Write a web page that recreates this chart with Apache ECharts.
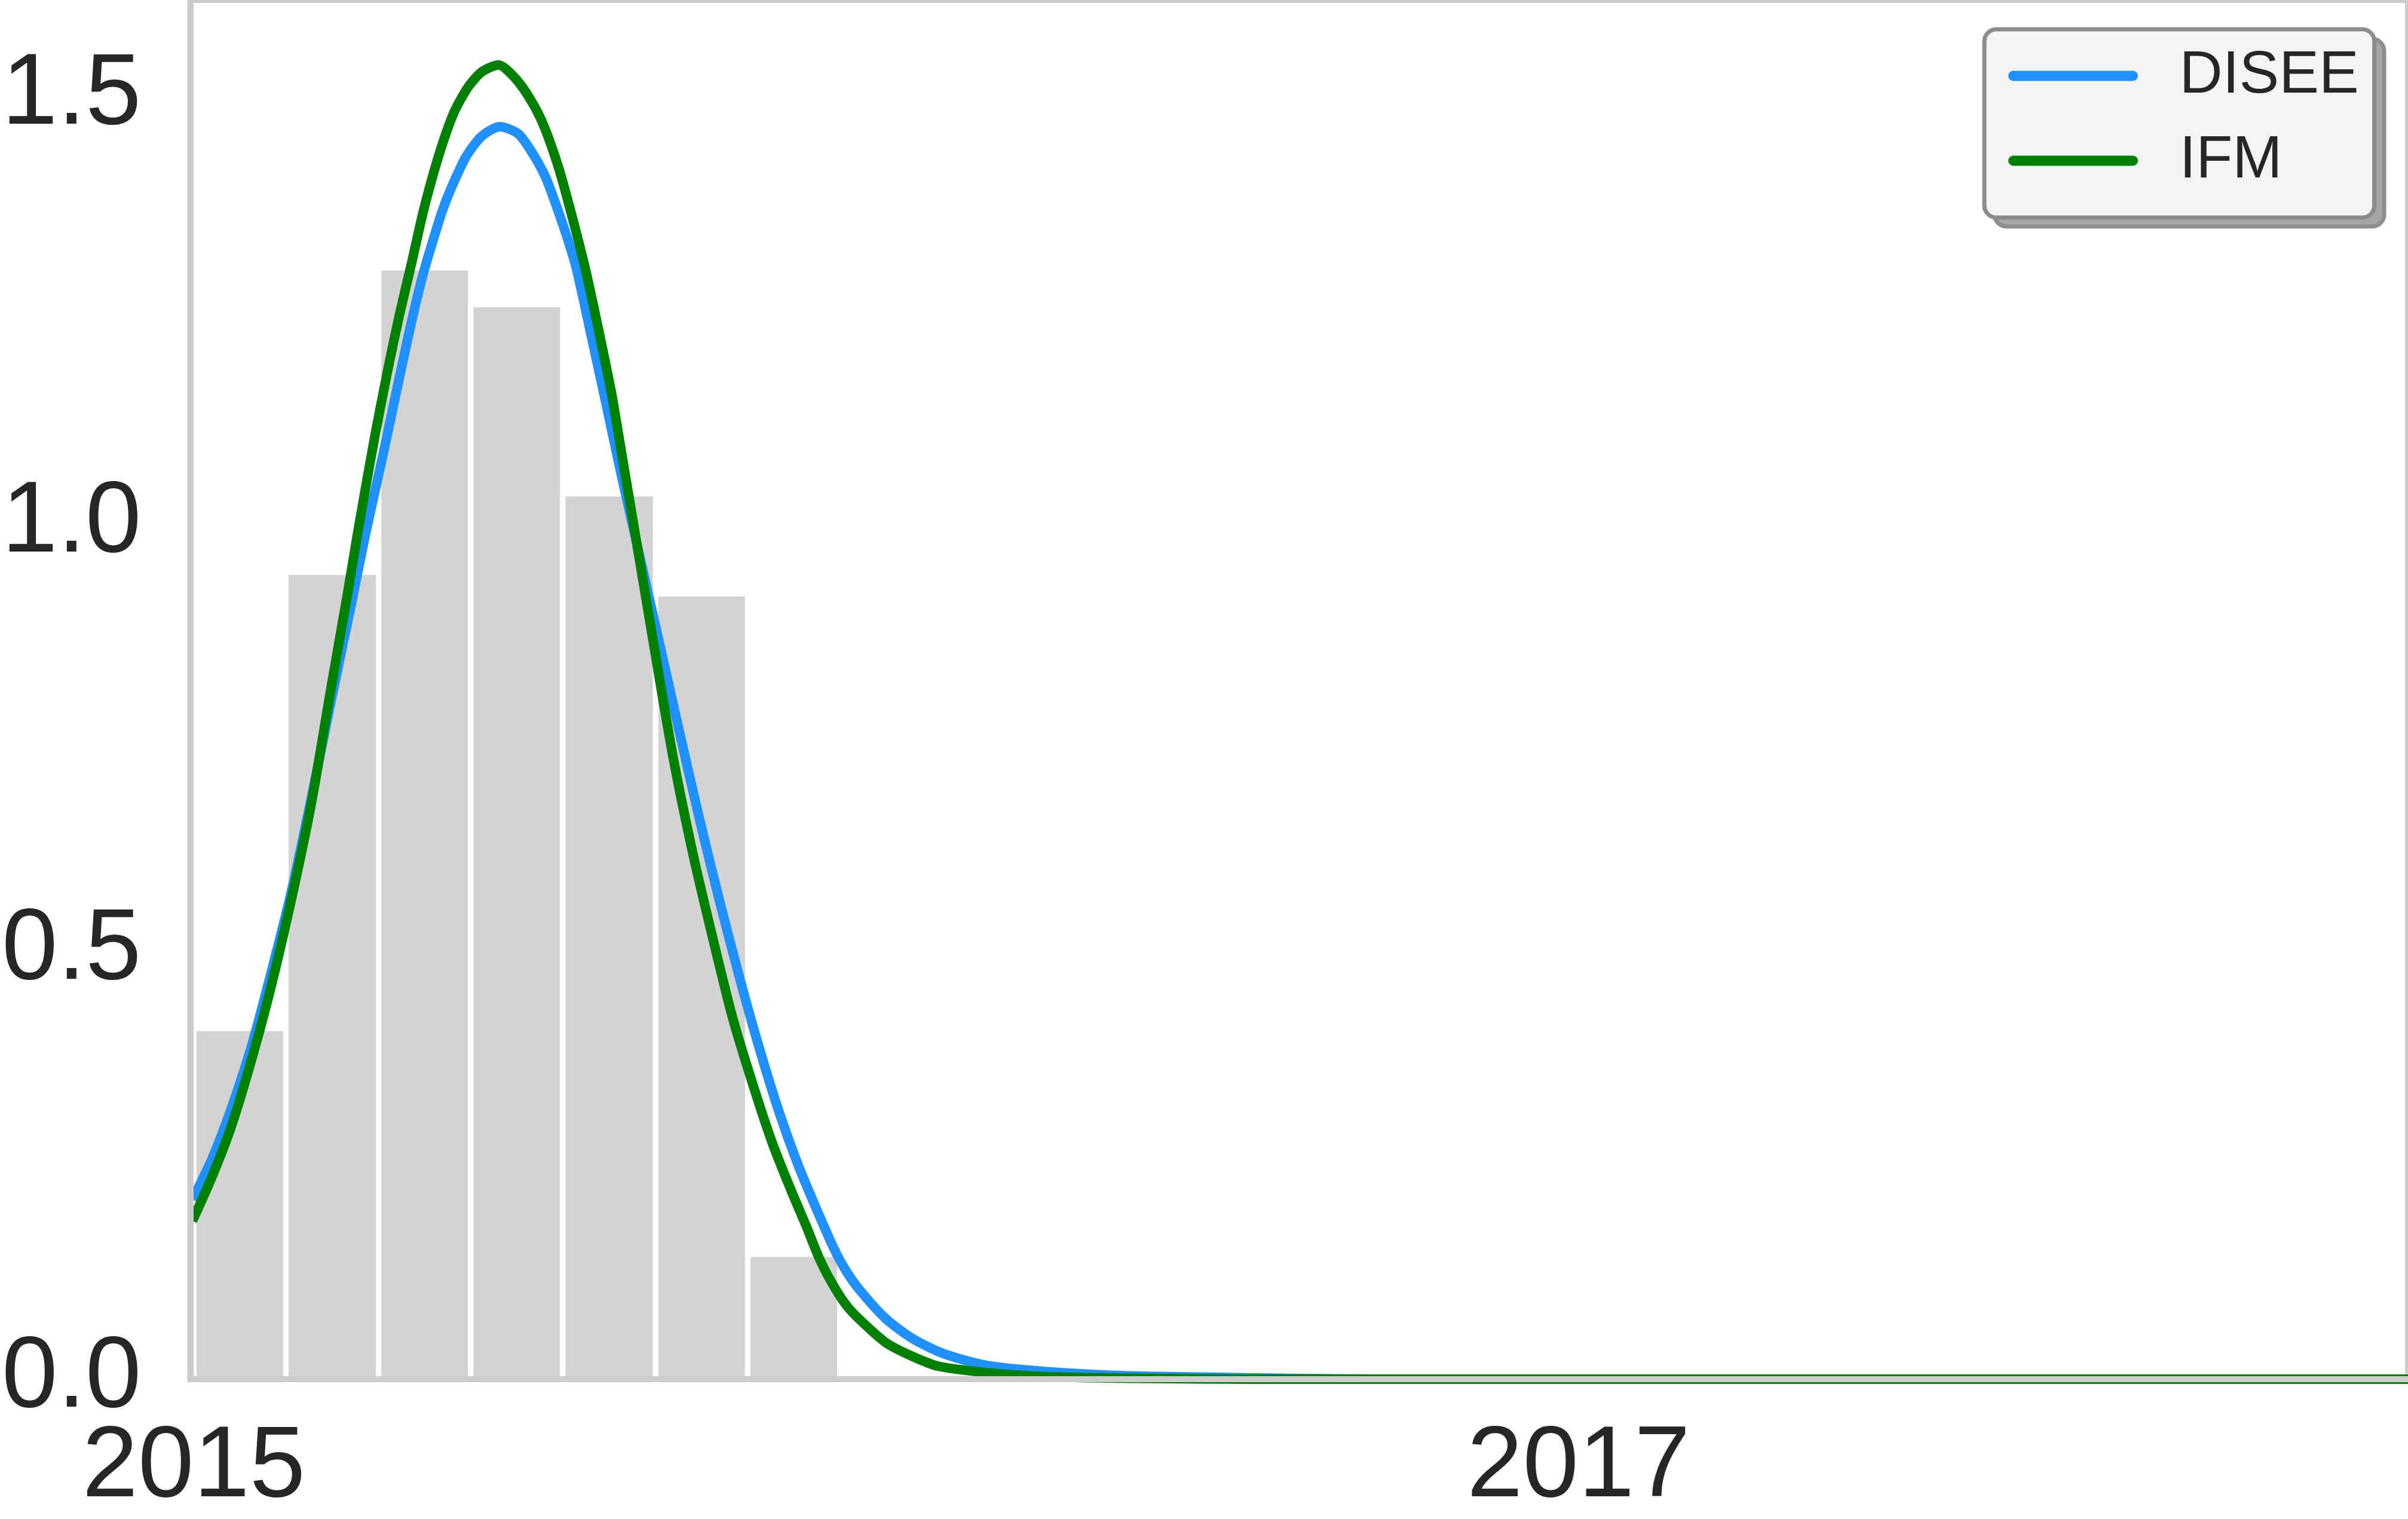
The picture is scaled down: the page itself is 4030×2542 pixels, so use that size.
<!DOCTYPE html>
<html>
<head>
<meta charset="utf-8">
<title>DISEE vs IFM</title>
<script src="https://cdn.jsdelivr.net/npm/echarts@6.0.0/dist/echarts.min.js"></script>
<style>
  html, body { margin: 0; padding: 0; background: #fff; }
  #chart { width: 4030px; height: 2542px; }
</style>
</head>
<body>
<div id="chart"></div>
<script>
// histogram bins (years) and heights
const binEdges = [2015.0, 2015.133, 2015.267, 2015.4, 2015.533, 2015.667, 2015.8, 2015.933]
const binHeights = [0.410, 0.943, 1.299, 1.256, 1.035, 0.918, 0.146]

// DISEE curve
const diseeYears = [2014.998, 2015.026, 2015.054, 2015.084, 2015.112, 2015.141, 2015.170, 2015.198, 2015.227,
  2015.247, 2015.275, 2015.292, 2015.306, 2015.319, 2015.332, 2015.347, 2015.360, 2015.376, 2015.394,
  2015.416, 2015.442, 2015.468, 2015.486, 2015.508, 2015.526, 2015.539, 2015.552, 2015.574, 2015.596,
  2015.618, 2015.644, 2015.672, 2015.701, 2015.730, 2015.759, 2015.787, 2015.816, 2015.845, 2015.873,
  2015.903, 2015.925, 2015.941, 2015.960, 2015.999, 2016.037, 2016.076, 2016.114, 2016.153, 2016.229,
  2016.345, 2016.491, 2016.707, 2018.198]
const diseeValues = [0.210, 0.257, 0.316, 0.391, 0.476, 0.570, 0.680, 0.792, 0.904,
  0.984, 1.087, 1.152, 1.205, 1.252, 1.294, 1.335, 1.368, 1.400, 1.430,
  1.453, 1.464, 1.456, 1.437, 1.405, 1.366, 1.335, 1.300, 1.220, 1.138,
  1.055, 0.962, 0.862, 0.758, 0.656, 0.560, 0.473, 0.389, 0.313, 0.250,
  0.192, 0.152, 0.128, 0.106, 0.071, 0.048, 0.032, 0.022, 0.015, 0.009,
  0.004, 0.002, 0.0, 0.0]

// IFM curve
const ifmYears = [2014.998, 2015.026, 2015.054, 2015.084, 2015.112, 2015.141, 2015.170, 2015.198, 2015.222,
  2015.235, 2015.244, 2015.261, 2015.279, 2015.297, 2015.315, 2015.330, 2015.345, 2015.360, 2015.376,
  2015.396, 2015.416, 2015.440, 2015.466, 2015.491, 2015.508, 2015.528, 2015.547, 2015.566, 2015.585,
  2015.603, 2015.618, 2015.635, 2015.664, 2015.692, 2015.722, 2015.750, 2015.778, 2015.808, 2015.836,
  2015.862, 2015.884, 2015.903, 2015.922, 2015.941, 2015.960, 2015.999, 2016.037, 2016.076, 2016.153,
  2016.229, 2016.362, 2016.534, 2018.198]
const ifmValues = [0.185, 0.236, 0.295, 0.375, 0.460, 0.561, 0.674, 0.807, 0.918,
  0.981, 1.023, 1.100, 1.175, 1.244, 1.306, 1.360, 1.406, 1.446, 1.481,
  1.510, 1.528, 1.536, 1.519, 1.489, 1.460, 1.413, 1.357, 1.296, 1.225,
  1.154, 1.082, 1.000, 0.860, 0.728, 0.610, 0.514, 0.423, 0.343, 0.275,
  0.222, 0.180, 0.142, 0.112, 0.088, 0.071, 0.043, 0.027, 0.015, 0.007,
  0.003, 0.001, 0.0, 0.0]

const xTicks = [2015, 2017]
const yTicks = [0, 0.5, 1.0, 1.5]

const FONT = "'Liberation Sans', Arial, sans-serif"
const TEXT = '#262626'
const SPINE = '#cccccc'

const chart = echarts.init(document.getElementById('chart'))

const barData = binHeights.map((h, i) => [binEdges[i], binEdges[i + 1], h])
const zipPts = (xs, ys) => xs.map((x, i) => [x, ys[i]])

const option = {
  animation: false,
  backgroundColor: '#fff',
  grid: {
    left: 311, right: 0, top: 0, bottom: 232,
    show: true,
    borderColor: SPINE,
    borderWidth: 10,
    backgroundColor: '#fff',
  },
  // hard drop shadow behind the legend box
  graphic: [{
    type: 'rect',
    z: 3,
    shape: { x: 3338, y: 65, width: 652, height: 314, r: 20 },
    style: { fill: '#a6a6a6', stroke: '#8e8e8e', lineWidth: 7 },
  }],
  legend: {
    data: ['DISEE', 'IFM'],
    orient: 'vertical',
    z: 4,
    left: 3321,
    top: 49,
    padding: [28, 26, 45, 40],
    itemWidth: 200,
    itemHeight: 17,
    itemGap: 42,
    backgroundColor: '#f4f4f4',
    borderColor: '#8c8c8c',
    borderWidth: 7,
    borderRadius: 20,
    lineStyle: { width: 17, cap: 'round' },
    textStyle: {
      fontFamily: FONT,
      fontSize: 100,
      lineHeight: 100,
      color: TEXT,
      padding: [0, 0, 0, 73],
    },
  },
  xAxis: {
    type: 'value',
    min: 2014.995,
    max: 2018.198,
    z: 10,
    axisLine: { show: true, onZero: false, lineStyle: { color: SPINE, width: 10 } },
    axisTick: { show: false },
    splitLine: { show: false },
    axisLabel: {
      customValues: xTicks,
      fontFamily: FONT,
      fontSize: 168,
      color: TEXT,
      margin: 66,
      formatter: v => String(v),
    },
  },
  yAxis: {
    type: 'value',
    min: 0,
    max: 1.612,
    z: 10,
    axisLine: { show: true, lineStyle: { color: SPINE, width: 10 } },
    axisTick: { show: false },
    splitLine: { show: false },
    axisLabel: {
      customValues: yTicks,
      fontFamily: FONT,
      fontSize: 168,
      color: TEXT,
      margin: 82,
      formatter: v => v.toFixed(1),
    },
  },
  series: [
    {
      name: 'hist',
      type: 'custom',
      z: 1,
      data: barData,
      encode: { x: [0, 1], y: 2 },
      renderItem: (params, api) => {
        const p0 = api.coord([api.value(0), api.value(2)])
        const p1 = api.coord([api.value(1), 0])
        return {
          type: 'rect',
          shape: { x: p0[0], y: p0[1], width: p1[0] - p0[0], height: p1[1] - p0[1] },
          style: { fill: '#d3d3d3', stroke: '#ffffff', lineWidth: 9 },
        }
      },
    },
    {
      name: 'DISEE',
      type: 'line',
      z: 2,
      data: zipPts(diseeYears, diseeValues),
      smooth: 0.25,
      symbol: 'none',
      lineStyle: { width: 16, color: '#1e90ff' },
      itemStyle: { color: '#1e90ff' },
    },
    {
      name: 'IFM',
      type: 'line',
      z: 3,
      data: zipPts(ifmYears, ifmValues),
      smooth: 0.25,
      symbol: 'none',
      lineStyle: { width: 16, color: '#008000' },
      itemStyle: { color: '#008000' },
    },
  ],
}

chart.setOption(option)
</script>
</body>
</html>
